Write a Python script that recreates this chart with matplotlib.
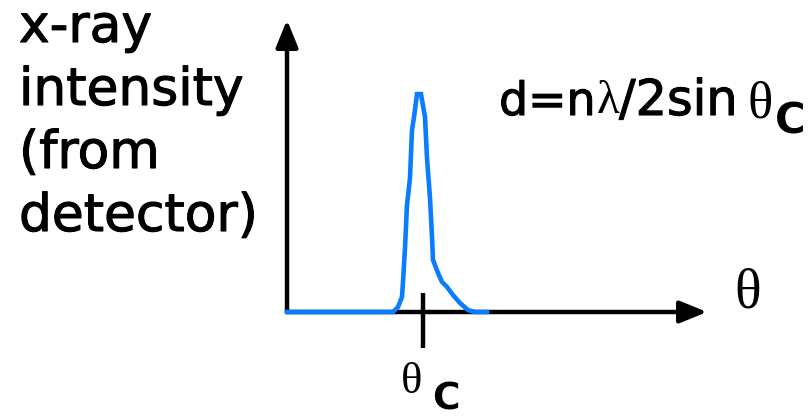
import matplotlib
matplotlib.use("Agg")
import matplotlib.pyplot as plt
import matplotlib.patheffects as pe

# diffraction peak (theta in arbitrary units, intensity in % of peak)
theta = [0, 10.6, 11.1, 11.5, 11.6, 11.8, 12.0, 12.3, 12.5, 12.7, 13.0, 13.4,
         13.8, 14.0, 14.3, 14.5, 14.6, 15.1, 15.5, 16.0, 16.6, 17.3, 18.1, 18.8, 20.0]
intensity = [0, 0, 2.3, 6.9, 13.8, 29.4, 49.1, 61.5, 83.5, 89.4, 100, 100,
             89.4, 70.6, 52.3, 34.4, 23.9, 17.9, 13.8, 11.5, 7.8, 4.1, 0.9, 0, 0]
theta_c = 13.6
ylabel_lines = ["x-ray", "intensity", "(from", "detector)"]

W, H = 810, 417
fig = plt.figure(figsize=(W / 100, H / 100), dpi=100)

# axes box: origin of the plot at pixel (287, 312)
ax = fig.add_axes([287 / W, 105 / H, 420 / W, 292 / H])
ax.set_xlim(0, 42)
ax.set_ylim(0, 134)
ax.axis("off")

blue = "#0a7cfd"
# drawn above the axis arrows so the blue baseline covers the black one
ax.plot(theta, intensity, color=blue, lw=3.3, zorder=6, clip_on=False,
        solid_joinstyle="miter")

# axes with arrow heads
arrow = dict(arrowstyle="-|>,head_length=1.1,head_width=0.45", lw=3.2,
             color="black", shrinkA=0, shrinkB=0, mutation_scale=15)
ax.annotate("", xy=(42, 0), xytext=(0, 0), arrowprops=arrow,
            annotation_clip=False, zorder=4)
ax.annotate("", xy=(0, 134), xytext=(0, 0), arrowprops=arrow,
            annotation_clip=False, zorder=4)

# tick at theta_c
ax.plot([theta_c, theta_c], [8.7, -16.5], color="black", lw=3.2, clip_on=False,
        solid_capstyle="butt", zorder=5)

heavy = [pe.withStroke(linewidth=0.8, foreground="black")]


def txt(x, y, s, **kw):
    # place text by pixel position (x from left, y baseline from top)
    fig.text(x / W, 1 - y / H, s, va="baseline", ha="left", **kw)


sans = "DejaVu Sans"
serif = "Liberation Serif"

# y label, one line at a time
for i, line in enumerate(ylabel_lines):
    txt(19, 42 + i * 63, line, family=sans, fontsize=37.3, path_effects=heavy)

# theta axis label
txt(734, 307, "\u03b8", family=serif, fontsize=40)

# theta_c tick label
txt(401, 393, "\u03b8", family=serif, fontsize=32)
txt(432, 410, "C", family=sans, fontsize=27, fontweight="bold")

# Bragg's law
txt(499, 115, "d=n", family=sans, fontsize=33, path_effects=heavy)
txt(597, 113, "\u03bb", family=serif, fontsize=34)
txt(619, 115, "/2sin", family=sans, fontsize=35.5, path_effects=heavy)
txt(747, 117, "\u03b8", family=serif, fontsize=38)
txt(775, 133, "C", family=sans, fontsize=30, fontweight="bold")

fig.savefig("out.png", dpi=100, facecolor="white")
